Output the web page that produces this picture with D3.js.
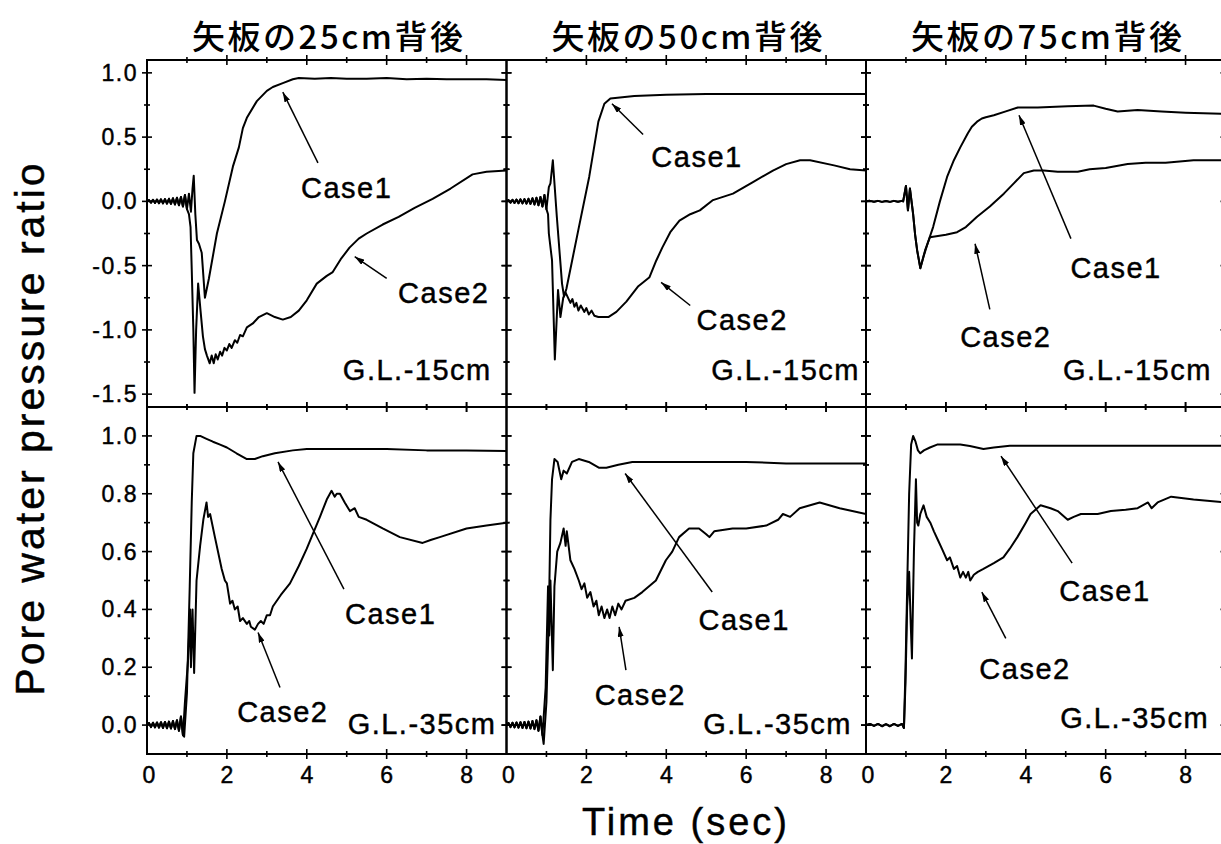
<!DOCTYPE html>
<html>
<head>
<meta charset="utf-8">
<script src="https://cdn.jsdelivr.net/npm/d3@7"></script>
<style>
  body { margin: 0; background: #fff; }
</style>
</head>
<body>
<script>

// -- data --

var titles = ["矢板の25cm背後", "矢板の50cm背後", "矢板の75cm背後"];
var depths = ["G.L.-15cm", "G.L.-35cm"];

var xTicks = [1, 2, 3, 4, 5, 6, 7, 8];
var xMajor = [2, 4, 6, 8];
var xLabels = [0, 2, 4, 6, 8];

var yTicksTop = [-1.5, -1.25, -1.0, -0.75, -0.5, -0.25, 0, 0.25, 0.5, 0.75, 1.0];
var yMajorTop = [-1.5, -1.0, -0.5, 0, 0.5, 1.0];
var yLabelsTop = ["-1.5", "-1.0", "-0.5", "0.0", "0.5", "1.0"];

var yTicksBottom = [0, 0.1, 0.2, 0.3, 0.4, 0.5, 0.6, 0.7, 0.8, 0.9, 1.0];
var yMajorBottom = [0, 0.2, 0.4, 0.6, 0.8, 1.0];
var yLabelsBottom = ["0.0", "0.2", "0.4", "0.6", "0.8", "1.0"];

// shaking before liquefaction (same for both cases)
var shakeTop = [[0,0],[0.05,0.01],[0.1,-0.01],[0.15,0.012],[0.2,-0.012],[0.25,0.014],[0.3,-0.014],
  [0.35,0.016],[0.4,-0.016],[0.45,0.018],[0.5,-0.018],[0.55,0.02],[0.6,-0.02],[0.65,0.024],[0.7,-0.024],
  [0.75,0.028],[0.8,-0.03],[0.85,0.034],[0.9,-0.04],[0.95,0.05],[1.0,-0.06]];
var shakeBottom = [[0,0],[0.05,0.007],[0.1,-0.007],[0.15,0.008],[0.2,-0.008],[0.25,0.009],[0.3,-0.009],
  [0.35,0.01],[0.4,-0.01],[0.45,0.011],[0.5,-0.011],[0.55,0.012],[0.6,-0.012],[0.65,0.014],[0.7,-0.014],
  [0.75,0.017],[0.8,-0.02],[0.85,0.03],[0.9,-0.035]];
var shakeQuiet = [[0,0],[0.1,0.004],[0.2,-0.003],[0.3,0.004],[0.4,-0.004],[0.5,0.003],[0.6,-0.004],
  [0.7,0.004],[0.8,-0.003],[0.9,0.004]];

// 25cm, G.L.-15cm
var tl1 = [[1.05,0.06],[1.1,-0.08],[1.14,0.1],[1.17,0.2],[1.21,-0.1],[1.25,-0.3],[1.3,-0.33],[1.37,-0.4],
  [1.45,-0.75],[1.55,-0.6],[1.75,-0.25],[1.95,0.0],[2.15,0.27],[2.3,0.42],[2.4,0.57],[2.5,0.65],[2.75,0.78],
  [3.0,0.86],[3.15,0.89],[3.4,0.92],[3.65,0.95],[3.8,0.96],[4.2,0.955],[4.6,0.96],[5.0,0.955],[5.5,0.955],
  [6.0,0.96],[6.5,0.95],[7.0,0.955],[7.5,0.95],[8.0,0.95],[8.5,0.95],[9.0,0.945]];
var tl2 = [[1.05,-0.1],[1.09,-0.2],[1.12,-0.53],[1.16,-1.0],[1.19,-1.49],[1.23,-1.0],[1.28,-0.64],[1.34,-0.85],
  [1.4,-1.05],[1.45,-1.15],[1.5,-1.2],[1.57,-1.26],[1.62,-1.2],[1.67,-1.26],[1.72,-1.19],[1.77,-1.23],
  [1.83,-1.17],[1.88,-1.2],[1.94,-1.14],[2.0,-1.16],[2.06,-1.11],[2.12,-1.14],[2.2,-1.08],[2.26,-1.1],
  [2.33,-1.04],[2.4,-1.05],[2.5,-0.98],[2.65,-0.95],[2.8,-0.9],[3.0,-0.87],[3.2,-0.9],[3.4,-0.92],[3.6,-0.9],
  [3.8,-0.85],[4.0,-0.77],[4.25,-0.64],[4.5,-0.58],[4.65,-0.55],[4.85,-0.45],[5.07,-0.36],[5.3,-0.29],
  [5.5,-0.25],[5.9,-0.18],[6.3,-0.12],[6.7,-0.05],[7.15,0.02],[7.6,0.1],[8.15,0.21],[8.5,0.23],[9.0,0.24]];

// 50cm, G.L.-15cm
var tm1 = [[1.06,0.11],[1.1,0.14],[1.16,0.32],[1.26,-0.12],[1.39,-0.64],[1.44,-0.74],[1.5,-0.68],[1.8,-0.22],
  [2.07,0.19],[2.3,0.62],[2.45,0.76],[2.6,0.8],[2.9,0.81],[3.2,0.82],[4.0,0.83],[5.0,0.835],[6.0,0.835],
  [7.0,0.835],[8.0,0.835],[9.0,0.835]];
var tm2 = [[1.04,-0.1],[1.06,-0.25],[1.14,-0.46],[1.21,-1.23],[1.29,-0.69],[1.35,-0.9],[1.42,-0.75],[1.48,-0.71],
  [1.6,-0.79],[1.65,-0.76],[1.7,-0.82],[1.75,-0.79],[1.8,-0.85],[1.86,-0.81],[1.95,-0.86],[2.0,-0.83],
  [2.06,-0.88],[2.13,-0.85],[2.2,-0.89],[2.3,-0.9],[2.55,-0.9],[2.75,-0.86],
  [3.0,-0.78],[3.3,-0.66],[3.58,-0.59],[3.75,-0.46],[3.9,-0.36],[4.1,-0.24],[4.33,-0.15],[4.6,-0.1],[4.84,-0.07],
  [5.17,0.01],[5.67,0.06],[6.17,0.15],[6.67,0.24],[7.0,0.29],[7.35,0.32],[7.6,0.32],[8.2,0.28],[8.6,0.25],[9.0,0.24]];

// 75cm, G.L.-15cm
var tr1 = [[0.93,0],[1.0,0.12],[1.05,-0.07],[1.1,0.1],[1.18,-0.1],[1.23,-0.26],[1.28,-0.38],[1.36,-0.52],
  [1.45,-0.42],[1.55,-0.32],[1.68,-0.2],[1.85,0.0],[2.03,0.19],[2.2,0.32],[2.36,0.42],[2.55,0.53],[2.65,0.58],
  [2.78,0.62],[2.9,0.645],[3.0,0.655],[3.2,0.67],[3.5,0.7],[3.8,0.73],[4.3,0.73],[5.05,0.74],[5.7,0.745],
  [6.0,0.72],[6.3,0.7],[6.8,0.71],[7.4,0.7],[8.0,0.69],[9.0,0.68]];
var tr2 = [[0.93,0],[1.0,0.12],[1.05,-0.07],[1.1,0.1],[1.18,-0.1],[1.23,-0.26],[1.28,-0.38],[1.36,-0.52],
  [1.48,-0.38],[1.6,-0.28],[1.8,-0.27],[2.0,-0.26],[2.28,-0.24],[2.5,-0.2],[2.78,-0.12],[3.1,-0.04],[3.45,0.06],
  [3.7,0.14],[3.95,0.22],[4.2,0.24],[4.45,0.24],[4.8,0.23],[5.3,0.23],[5.6,0.25],[6.0,0.26],[6.55,0.29],
  [7.0,0.3],[7.5,0.3],[8.2,0.32],[9.0,0.32]];

// 25cm, G.L.-35cm
var bl1 = [[0.93,-0.04],[1.0,0.11],[1.07,0.48],[1.12,0.77],[1.16,0.94],[1.24,1.0],[1.33,1.0],[1.49,0.99],
  [1.65,0.98],[1.83,0.97],[2.0,0.96],[2.24,0.94],[2.5,0.92],[2.7,0.92],[2.9,0.93],[3.2,0.94],[3.65,0.95],
  [4.0,0.955],[5.0,0.955],[6.0,0.955],[7.0,0.95],[8.0,0.95],[9.0,0.948]];
var bl2 = [[0.95,0.08],[1.03,0.23],[1.08,0.4],[1.1,0.2],[1.14,0.4],[1.18,0.18],[1.24,0.5],[1.33,0.62],
  [1.41,0.71],[1.49,0.77],[1.53,0.72],[1.58,0.73],[1.7,0.65],[1.87,0.54],[1.95,0.5],[2.0,0.49],[2.08,0.42],
  [2.14,0.43],[2.2,0.4],[2.27,0.41],[2.33,0.36],[2.4,0.37],[2.5,0.35],[2.56,0.36],[2.6,0.34],[2.7,0.33],
  [2.78,0.35],[2.85,0.36],[2.92,0.35],[3.0,0.38],[3.08,0.38],[3.15,0.41],[3.35,0.45],[3.58,0.49],[3.8,0.55],
  [4.0,0.61],[4.15,0.66],[4.33,0.72],[4.5,0.78],[4.62,0.81],[4.7,0.79],[4.75,0.8],[4.83,0.8],[4.95,0.77],
  [5.08,0.74],[5.2,0.75],[5.3,0.72],[5.5,0.71],[5.9,0.68],[6.33,0.65],[6.9,0.63],[7.1,0.64],[7.33,0.65],
  [8.0,0.68],[8.5,0.69],[9.0,0.7]];

// 50cm, G.L.-35cm
var bm1 = [[0.93,-0.065],[1.0,0.08],[1.06,0.37],[1.1,0.71],[1.14,0.85],[1.2,0.92],[1.28,0.91],[1.37,0.85],
  [1.43,0.88],[1.51,0.87],[1.64,0.91],[1.81,0.92],[2.06,0.91],[2.31,0.89],[2.5,0.89],[2.8,0.9],[3.15,0.91],
  [4.0,0.91],[5.0,0.91],[6.0,0.91],[7.0,0.905],[8.0,0.905],[9.0,0.905]];
var bm2 = [[0.98,0.13],[1.04,0.48],[1.07,0.31],[1.1,0.5],[1.16,0.19],[1.2,0.48],[1.27,0.6],[1.35,0.63],
  [1.43,0.68],[1.48,0.62],[1.51,0.67],[1.6,0.57],[1.7,0.54],[1.81,0.5],[1.88,0.47],[1.95,0.49],[2.02,0.44],
  [2.1,0.46],[2.18,0.41],[2.25,0.43],[2.31,0.38],[2.38,0.41],[2.45,0.37],[2.52,0.4],[2.58,0.37],[2.65,0.41],
  [2.72,0.38],[2.8,0.42],[2.88,0.4],[2.98,0.43],[3.2,0.44],[3.4,0.46],[3.74,0.5],
  [3.99,0.57],[4.15,0.6],[4.32,0.65],[4.57,0.68],[4.82,0.68],[5.0,0.66],[5.08,0.65],[5.2,0.67],[5.66,0.68],
  [6.0,0.68],[6.5,0.69],[6.8,0.71],[6.92,0.73],[7.1,0.72],[7.34,0.75],[7.84,0.77],[8.34,0.75],[9.0,0.73]];

// 75cm, G.L.-35cm
var br1 = [[0.95,-0.01],[0.99,0.2],[1.03,0.47],[1.08,0.8],[1.13,0.97],[1.18,1.0],[1.24,0.98],[1.3,0.95],
  [1.36,0.94],[1.45,0.95],[1.6,0.96],[1.78,0.97],[2.0,0.97],[2.36,0.97],[2.6,0.965],[2.94,0.955],[3.2,0.96],
  [3.6,0.966],[4.5,0.966],[5.5,0.966],[6.5,0.966],[7.5,0.966],[8.5,0.966],[9.0,0.966]];
var br2 = [[0.95,-0.01],[0.99,0.15],[1.03,0.41],[1.08,0.53],[1.12,0.35],[1.15,0.23],[1.2,0.6],[1.25,0.85],
  [1.28,0.7],[1.31,0.69],[1.36,0.73],[1.44,0.76],[1.52,0.72],[1.61,0.7],[1.7,0.67],[1.8,0.64],[1.9,0.61],
  [2.03,0.57],[2.1,0.58],[2.2,0.54],[2.28,0.55],[2.36,0.51],[2.43,0.53],[2.5,0.51],[2.56,0.53],[2.61,0.5],
  [2.7,0.52],[2.8,0.53],[2.94,0.54],[3.2,0.56],[3.44,0.58],
  [3.6,0.61],[3.79,0.65],[4.0,0.7],[4.12,0.73],[4.37,0.76],[4.62,0.75],[4.8,0.74],[5.05,0.71],[5.2,0.72],
  [5.38,0.73],[5.8,0.73],[6.13,0.74],[6.5,0.745],[6.8,0.75],[7.06,0.77],[7.15,0.75],[7.3,0.77],[7.64,0.79],
  [8.2,0.78],[9.0,0.77]];

// which traces go in which panel
var panels = [
  { col: 0, row: 0, pre: shakeTop,    case1: tl1, case2: tl2 },
  { col: 1, row: 0, pre: shakeTop,    case1: tm1, case2: tm2 },
  { col: 2, row: 0, pre: shakeQuiet,  case1: tr1, case2: tr2 },
  { col: 0, row: 1, pre: shakeBottom, case1: bl1, case2: bl2 },
  { col: 1, row: 1, pre: shakeBottom, case1: bm1, case2: bm2 },
  { col: 2, row: 1, pre: shakeQuiet,  case1: br1, case2: br2 }
];

// annotations in data units: text at (t, v), pointer from tail to head
var notes = [
  { col: 0, row: 0, text: "Case1", t: 5.0,  v: 0.03,  tail: [4.28, 0.3],   head: [3.4, 0.85] },
  { col: 0, row: 0, text: "Case2", t: 7.43, v: -0.79, tail: [6.0, -0.6],   head: [5.2, -0.43] },
  { col: 1, row: 0, text: "Case1", t: 4.77, v: 0.27,  tail: [3.42, 0.52],  head: [2.64, 0.76] },
  { col: 1, row: 0, text: "Case2", t: 5.9,  v: -1.0,  tail: [4.6, -0.81],  head: [3.87, -0.63] },
  { col: 2, row: 0, text: "Case1", t: 6.26, v: -0.6,  tail: [5.13, -0.29], head: [3.83, 0.67] },
  { col: 2, row: 0, text: "Case2", t: 3.5,  v: -1.13, tail: [3.1, -0.84],  head: [2.73, -0.33] },
  { col: 0, row: 1, text: "Case1", t: 6.1,  v: 0.35,  tail: [4.93, 0.47],  head: [3.28, 0.91] },
  { col: 0, row: 1, text: "Case2", t: 3.4,  v: 0.01,  tail: [3.33, 0.13],  head: [2.78, 0.32] },
  { col: 1, row: 1, text: "Case1", t: 5.95, v: 0.33,  tail: [5.15, 0.46],  head: [2.97, 0.87] },
  { col: 1, row: 1, text: "Case2", t: 3.35, v: 0.07,  tail: [2.99, 0.19],  head: [2.82, 0.34] },
  { col: 2, row: 1, text: "Case1", t: 5.98, v: 0.43,  tail: [5.16, 0.56],  head: [3.38, 0.93] },
  { col: 2, row: 1, text: "Case2", t: 3.98, v: 0.16,  tail: [3.5, 0.3],    head: [2.9, 0.46] }
];
// depth label, right aligned
var depthPos = [
  { col: 0, row: 0, t: 8.63, v: -1.39 }, { col: 1, row: 0, t: 8.85, v: -1.39 }, { col: 2, row: 0, t: 8.66, v: -1.39 },
  { col: 0, row: 1, t: 8.75, v: -0.03 }, { col: 1, row: 1, t: 8.65, v: -0.03 }, { col: 2, row: 1, t: 8.59, v: -0.01 }
];


// -- layout --

var width = 1221, height = 844;
var left = 147, colW = 359.5;
var rowTop = [60, 407], rowH = 347;
var sw = 2;
var font = "Liberation Sans";

var svg = d3.select("body").append("svg")
    .attr("width", width)
    .attr("height", height);

svg.append("defs").append("marker")
    .attr("id", "arrow")
    .attr("markerUnits", "userSpaceOnUse")
    .attr("markerWidth", 10).attr("markerHeight", 6)
    .attr("refX", 10).attr("refY", 3)
    .attr("orient", "auto")
    .append("path")
    .attr("d", "M0,0 L10,3 L0,6 Z")
    .style("fill", "black");

function xScale(col) {
    return d3.scaleLinear().domain([0, 9]).range([left + col * colW, left + (col + 1) * colW]);
}

function yScale(row) {
    var dom = row == 0 ? [-1.6, 1.1] : [-0.1, 1.1];
    return d3.scaleLinear().domain(dom).range([rowTop[row] + rowH, rowTop[row]]);
}

// plain text with a thin outline, the scan looks heavier than a regular face
function label(x, y, str, size, anchor, spacing) {
    return svg.append("text")
        .attr("x", x).attr("y", y)
        .attr("text-anchor", anchor)
        .attr("font-family", font)
        .attr("font-size", size + "px")
        .style("letter-spacing", (spacing || 0) + "px")
        .style("fill", "black")
        .style("stroke", "black")
        .style("stroke-width", 0.45)
        .text(str);
}

var line = d3.line();

panels.forEach(function (p, i) {
    var x = xScale(p.col), y = yScale(p.row);
    var x0 = x.range()[0], x1 = x.range()[1];
    var y0 = y.range()[1], y1 = y.range()[0];

    svg.append("clipPath").attr("id", "clip" + i)
        .append("rect")
        .attr("x", x0).attr("y", y0)
        .attr("width", x1 - x0).attr("height", y1 - y0);

    // traces
    [p.case1, p.case2].forEach(function (tr) {
        var pts = p.pre.concat(tr);
        svg.append("path")
            .attr("clip-path", "url(#clip" + i + ")")
            .attr("d", line.x(function (d) { return x(d[0]); }).y(function (d) { return y(d[1]); })(pts))
            .style("fill", "none")
            .style("stroke", "black")
            .style("stroke-width", sw)
            .style("stroke-linejoin", "round");
    });

    // frame
    svg.append("rect")
        .attr("x", x0).attr("y", y0)
        .attr("width", x1 - x0).attr("height", y1 - y0)
        .style("fill", "none")
        .style("stroke", "black")
        .style("stroke-width", sw);

    // ticks crossing the frame on all four sides
    var yt = p.row == 0 ? yTicksTop : yTicksBottom;
    var ym = p.row == 0 ? yMajorTop : yMajorBottom;
    var ticks = svg.append("g").style("stroke", "black").style("stroke-width", 1.6);

    xTicks.forEach(function (t) {
        var k = xMajor.indexOf(t) >= 0 ? 5 : 3;
        [y0, y1].forEach(function (yy) {
            ticks.append("line")
                .attr("x1", x(t)).attr("x2", x(t))
                .attr("y1", yy - k).attr("y2", yy + k);
        });
    });
    yt.forEach(function (v) {
        var k = ym.indexOf(v) >= 0 ? 5 : 3;
        [x0, x1].forEach(function (xx) {
            ticks.append("line")
                .attr("x1", xx - k).attr("x2", xx + k)
                .attr("y1", y(v)).attr("y2", y(v));
        });
    });

    // y labels on the leftmost column
    if (p.col == 0) {
        var labs = p.row == 0 ? yLabelsTop : yLabelsBottom;
        ym.forEach(function (v, j) {
            label(x0 - 9, y(v) + 8, labs[j], 23, "end", 1.5);
        });
    }

    // x labels on the bottom row
    if (p.row == 1) {
        xLabels.forEach(function (t) {
            label(x(t) + (t == 0 ? 2 : 0), y1 + 29, t, 23, "middle", 0);
        });
    }

    // title
    if (p.row == 0) {
        svg.append("text")
            .attr("x", (x0 + x1) / 2 + 2).attr("y", 49)
            .attr("text-anchor", "middle")
            .attr("font-family", "Noto Sans CJK JP")
            .attr("font-size", "33px")
            .attr("font-weight", "500")
            .style("letter-spacing", "2.5px")
            .text(titles[p.col]);
    }
});

// annotations
notes.forEach(function (n) {
    var x = xScale(n.col), y = yScale(n.row);
    svg.append("line")
        .attr("x1", x(n.tail[0])).attr("y1", y(n.tail[1]))
        .attr("x2", x(n.head[0])).attr("y2", y(n.head[1]))
        .attr("marker-end", "url(#arrow)")
        .style("stroke", "black").style("stroke-width", 1.5);
    label(x(n.t), y(n.v), n.text, 29, "middle", 1.5);
});

depthPos.forEach(function (d) {
    var x = xScale(d.col), y = yScale(d.row);
    label(x(d.t), y(d.v), depths[d.row], 29, "end", 1.5);
});

// axis titles
label(0, 0, "Pore water pressure ratio", 41, "middle", 3)
    .attr("transform", "translate(44,428) rotate(-90)");

label(686, 835, "Time (sec)", 38, "middle", 3);

</script>
</body>
</html>
